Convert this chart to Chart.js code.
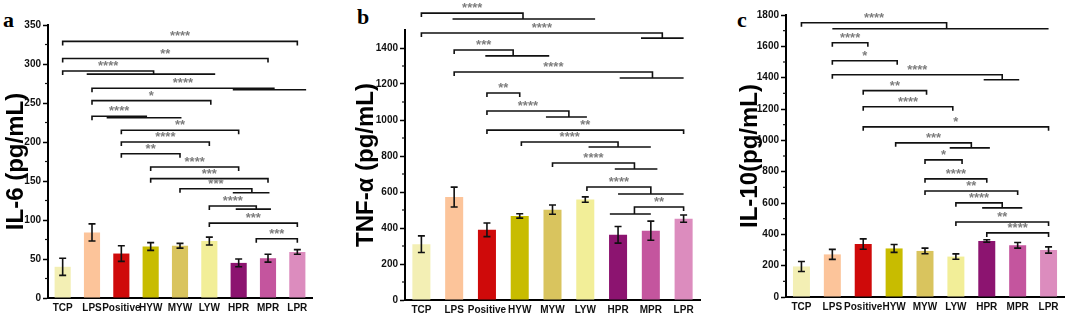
<!DOCTYPE html>
<html>
<head>
<meta charset="utf-8">
<script src="https://cdn.jsdelivr.net/npm/chart.js@4/dist/chart.umd.min.js"></script>
<style>
  body { margin: 0; width: 1065px; height: 320px; background: #fff; position: relative; overflow: hidden; }
  canvas { position: absolute; top: 0; }
  .tag { position: absolute; font: bold 22px "Liberation Serif", "Times New Roman", serif; line-height: 22px; color: #000; }
</style>
</head>
<body>
<div class="tag" style="left:3px;top:9px">a</div>
<div class="tag" style="left:357px;top:6px">b</div>
<div class="tag" style="left:737px;top:9px">c</div>
<canvas id="il6" width="325" height="320" style="left:0px"></canvas>
<canvas id="tnf" width="375" height="320" style="left:340px"></canvas>
<canvas id="il10" width="350" height="320" style="left:715px"></canvas>
<script>
const categories = ['TCP', 'LPS', 'Positive', 'HYW', 'MYW', 'LYW', 'HPR', 'MPR', 'LPR']
const barColors = ['#f3efb4', '#fcc49a', '#cf0a0a', '#c8bc00', '#d9c45e', '#f2ee98', '#8c1470', '#c4559e', '#dc8cbe']

const il6Mean = [40, 84, 57, 66, 67, 73, 45, 51, 59]
const il6Err = [11, 11, 10, 5, 3, 5, 5, 5, 3]
const tnfMean = [310, 572, 390, 467, 502, 558, 362, 385, 452]
const tnfErr = [46, 55, 38, 12, 26, 15, 46, 53, 20]
const il10Mean = [195, 272, 338, 310, 294, 258, 357, 330, 300]
const il10Err = [32, 32, 33, 25, 18, 17, 8, 18, 20]

// significance brackets: [from, to, value, stars, extFrom, extTo, extValue]
const il6Brackets = [
  [0, 8, 329, '****'],
  [0, 7, 307, '**'],
  [0, 3.1, 291, '****', 0.82, 5.2, 287],
  [1, 7.2, 269, '****', 5.8, 8.3, 267],
  [1, 5.05, 253, '*'],
  [1, 2.85, 233, '****', 1.5, 4.05, 231],
  [2, 6, 215, '**'],
  [2, 5, 200, '****'],
  [2, 4, 185, '**'],
  [3, 6, 168, '****'],
  [3, 7, 153, '***'],
  [4, 6.45, 140, '***', 5.8, 7.05, 135],
  [5, 6.6, 118, '****', 5.9, 7.1, 114],
  [5, 8, 96, '***'],
  [6.6, 8, 76, '***']
]
const tnfBrackets = [
  [0, 3.1, 1594, '****', 0.95, 5.3, 1561],
  [0, 7.35, 1483, '****', 6.7, 8, 1455],
  [1, 2.8, 1389, '***', 1.95, 3.9, 1356],
  [1, 7.05, 1267, '****', 6.05, 8, 1233],
  [2, 3, 1150, '**'],
  [2, 4.5, 1050, '****', 3.8, 5.05, 1017],
  [2, 8, 944, '**'],
  [3.05, 6, 878, '****', 5.1, 7, 850],
  [4, 6.5, 761, '****', 5.9, 7.2, 728],
  [5.05, 7, 628, '****', 6, 8, 589],
  [6.5, 8, 517, '**', 5.75, 7, 478]
]
const il10Brackets = [
  [0, 4.7, 1751, '****', 1, 8, 1712],
  [1, 2.15, 1623, '****'],
  [1, 3.1, 1508, '*'],
  [1, 6.5, 1419, '****', 5.9, 7.05, 1387],
  [2, 4.05, 1317, '**'],
  [2, 4.9, 1214, '****'],
  [2, 8, 1086, '*'],
  [3.05, 5.5, 984, '***', 4.8, 6.1, 952],
  [4, 5.2, 875, '*'],
  [4, 6, 754, '****'],
  [4, 7, 677, '**'],
  [5, 6.5, 601, '****', 5.85, 7.15, 569],
  [5, 8, 479, '**'],
  [6, 8, 409, '****']
]

const tickFont = {family: '"Liberation Sans", Arial, sans-serif', size: 10, weight: 'bold'}

function extras(means, errs, brackets, major, minor) {
  return {
    id: 'extras',
    afterDraw(chart) {
      const ctx = chart.ctx, x = chart.scales.x, y = chart.scales.y
      ctx.save()
      ctx.strokeStyle = '#111'
      ctx.lineWidth = 1.6

      // error bars
      for (let i = 0; i < means.length; i++) {
        const px = x.getPixelForValue(i)
        const top = y.getPixelForValue(means[i] + errs[i])
        const bot = y.getPixelForValue(means[i] - errs[i])
        ctx.beginPath()
        ctx.moveTo(px, top); ctx.lineTo(px, bot)
        ctx.moveTo(px - 3.5, top); ctx.lineTo(px + 3.5, top)
        ctx.moveTo(px - 3.5, bot); ctx.lineTo(px + 3.5, bot)
        ctx.stroke()
      }

      // minor ticks on y axis
      ctx.lineWidth = 1.2
      const ax = chart.chartArea.left
      for (let v = minor; v < y.max; v += minor) {
        if (v % major === 0) continue
        const py = y.getPixelForValue(v)
        ctx.beginPath(); ctx.moveTo(ax - 3, py); ctx.lineTo(ax, py); ctx.stroke()
      }

      // brackets
      ctx.lineWidth = 1.6
      ctx.font = 'bold 13px "Liberation Sans", Arial, sans-serif'
      ctx.fillStyle = '#7d7d7d'
      ctx.textAlign = 'center'
      ctx.textBaseline = 'alphabetic'
      brackets.forEach(([a, b, v, label, ea, eb, ev]) => {
        const x1 = x.getPixelForValue(a), x2 = x.getPixelForValue(b), py = y.getPixelForValue(v)
        const hasExt = ea !== undefined
        let ex1, ex2, ey
        if (hasExt) {
          ex1 = x.getPixelForValue(ea); ex2 = x.getPixelForValue(eb); ey = y.getPixelForValue(ev)
        }
        const tickEnd = px => (hasExt && px >= ex1 - 1 && px <= ex2 + 1) ? ey : py + 4
        ctx.beginPath()
        ctx.moveTo(x1, tickEnd(x1)); ctx.lineTo(x1, py); ctx.lineTo(x2, py); ctx.lineTo(x2, tickEnd(x2))
        if (hasExt) { ctx.moveTo(ex1, ey); ctx.lineTo(ex2, ey) }
        ctx.stroke()
        ctx.fillText(label, (x1 + x2) / 2, py - 1)
      })
      ctx.restore()
    }
  }
}

function makeChart(id, means, errs, brackets, yMax, major, minor, title, lay) {
  return new Chart(document.getElementById(id), {
    type: 'bar',
    data: {
      labels: categories,
      datasets: [{data: means, backgroundColor: barColors, barPercentage: 0.55, categoryPercentage: 1}]
    },
    options: {
      responsive: false,
      animation: false,
      layout: {padding: {top: lay.top, right: lay.right, left: 0, bottom: 0}},
      plugins: {legend: {display: false}, tooltip: {enabled: false}},
      scales: {
        x: {
          grid: {display: false, drawTicks: false},
          border: {color: '#000', width: 2},
          ticks: {autoSkip: false, maxRotation: 0, minRotation: 0, padding: 4, color: '#111', font: tickFont},
          afterFit: s => { s.height = lay.xh }
        },
        y: {
          min: 0, max: yMax,
          ticks: {stepSize: major, padding: 2, color: '#111', font: tickFont, callback: v => String(v)},
          afterBuildTicks: s => { s.ticks = s.ticks.filter(t => t.value % major === 0) },
          grid: {drawOnChartArea: false, tickLength: 5, tickColor: '#000', tickWidth: 1.5},
          border: {color: '#000', width: 2},
          title: {
            display: true, text: title, color: '#000',
            font: {family: '"Liberation Sans", Arial, sans-serif', size: 24, weight: 'bold'},
            padding: {top: lay.tp, bottom: 0}
          },
          afterFit: s => { s.width = lay.yw }
        }
      }
    },
    plugins: [extras(means, errs, brackets, major, minor)]
  })
}

makeChart('il6', il6Mean, il6Err, il6Brackets, 350, 50, 25, 'IL-6 (pg/mL)',
  {top: 25, right: 13, xh: 22, yw: 48, tp: 2})
makeChart('tnf', tnfMean, tnfErr, tnfBrackets, 1500, 200, 100, 'TNF-α (pg/mL)',
  {top: 30, right: 15, xh: 20, yw: 65, tp: 12})
makeChart('il10', il10Mean, il10Err, il10Brackets, 1800, 200, 100, 'IL-10(pg/mL)',
  {top: 15, right: 1, xh: 23, yw: 71, tp: 21})
</script>
</body>
</html>
